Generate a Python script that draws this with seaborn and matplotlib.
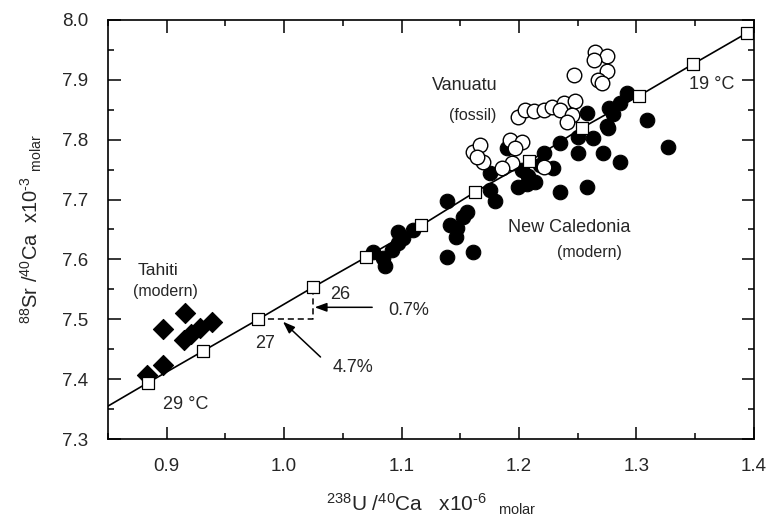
import matplotlib
matplotlib.use("Agg")
import matplotlib.pyplot as plt
from matplotlib.ticker import MultipleLocator
import pandas as pd
import seaborn as sns

# Calibration line: squares every 1 degC, 29 degC (left) to 18 degC (right)
calib_temp = [29, 28, 27, 26, 25, 24, 23, 22, 21, 20, 19, 18]
calib_u = [0.884, 0.931, 0.978, 1.025, 1.070, 1.117, 1.163, 1.209, 1.254, 1.302, 1.348, 1.394]
calib_sr = [7.394, 7.447, 7.500, 7.554, 7.604, 7.657, 7.713, 7.764, 7.820, 7.873, 7.926, 7.978]
line_start_u = 0.85
line_start_sr = 7.355

# Tahiti (modern)
tahiti_u = [0.883, 0.897, 0.897, 0.916, 0.915, 0.921, 0.928, 0.939]
tahiti_sr = [7.407, 7.424, 7.484, 7.510, 7.466, 7.476, 7.486, 7.496]

# New Caledonia (modern)
newcal_u = [1.076, 1.084, 1.086, 1.092, 1.097, 1.097, 1.101, 1.110, 1.139, 1.141,
            1.152, 1.156, 1.146, 1.147, 1.139, 1.161, 1.175, 1.175, 1.180, 1.190,
            1.199, 1.207, 1.214, 1.203, 1.221, 1.229, 1.235, 1.258, 1.235, 1.250,
            1.250, 1.263, 1.272, 1.286, 1.276, 1.309, 1.327, 1.292, 1.286, 1.277,
            1.280, 1.275, 1.208, 1.218, 1.258]
newcal_sr = [7.612, 7.602, 7.589, 7.616, 7.627, 7.646, 7.636, 7.649, 7.698, 7.658,
             7.671, 7.679, 7.637, 7.652, 7.604, 7.612, 7.744, 7.716, 7.698, 7.786,
             7.721, 7.726, 7.729, 7.749, 7.778, 7.753, 7.713, 7.721, 7.794, 7.778,
             7.805, 7.803, 7.778, 7.763, 7.820, 7.833, 7.788, 7.878, 7.861, 7.853,
             7.843, 7.823, 7.739, 7.758, 7.845]

# Vanuatu (fossil)
vanuatu_u = [1.265, 1.275, 1.264, 1.275, 1.247, 1.267, 1.271, 1.199, 1.205, 1.213,
             1.221, 1.228, 1.238, 1.248, 1.235, 1.245, 1.241, 1.161, 1.167, 1.169,
             1.164, 1.192, 1.203, 1.197, 1.194, 1.186, 1.221]
vanuatu_sr = [7.947, 7.940, 7.933, 7.915, 7.908, 7.900, 7.895, 7.838, 7.850, 7.848,
              7.850, 7.855, 7.861, 7.865, 7.850, 7.841, 7.830, 7.779, 7.791, 7.763,
              7.771, 7.800, 7.796, 7.786, 7.761, 7.753, 7.754]

x_ticks = [0.9, 1.0, 1.1, 1.2, 1.3, 1.4]
y_ticks = [7.3, 7.4, 7.5, 7.6, 7.7, 7.8, 7.9, 8.0]

sns.set_theme(style="ticks")
plt.rcParams["font.family"] = ["Liberation Sans", "DejaVu Sans"]
plt.rcParams["mathtext.fontset"] = "custom"
plt.rcParams["mathtext.rm"] = "Liberation Sans"
plt.rcParams["mathtext.it"] = "Liberation Sans"
plt.rcParams["mathtext.default"] = "rm"

fig = plt.figure(figsize=(7.66, 5.23), dpi=100)
ax = fig.add_axes([0.141, 0.1606, 0.843, 0.8012])

calib = pd.DataFrame({"u": calib_u, "sr": calib_sr, "t": calib_temp})
line = pd.DataFrame({"u": [line_start_u] + calib_u, "sr": [line_start_sr] + calib_sr})

sns.scatterplot(x=newcal_u, y=newcal_sr, ax=ax, marker="o", s=110,
                color="black", edgecolor="black", linewidth=0.8, zorder=2, legend=False)
sns.scatterplot(x=vanuatu_u, y=vanuatu_sr, ax=ax, marker="o", s=110,
                facecolor="white", edgecolor="black", linewidth=1.0, zorder=3, legend=False)
sns.scatterplot(x=tahiti_u, y=tahiti_sr, ax=ax, marker="D", s=105,
                color="black", edgecolor="black", linewidth=0.8, zorder=2, legend=False)
sns.lineplot(data=line, x="u", y="sr", ax=ax, color="black", linewidth=1.2,
             sort=False, zorder=4, legend=False)
sns.scatterplot(data=calib, x="u", y="sr", ax=ax, marker="s", s=65,
                facecolor="white", edgecolor="black", linewidth=0.9, zorder=5, legend=False)

# Dashed construction between 27 and 26 degC
u27, sr27 = calib_u[2], calib_sr[2]
u26, sr26 = calib_u[3], calib_sr[3]
ax.plot([u27, u26, u26], [sr27, sr27, sr26], color="black", lw=1.1,
        ls=(0, (4, 2.5)), zorder=3)

arrow = dict(arrowstyle="-|>,head_length=0.6,head_width=0.22", color="black", lw=1.1,
             mutation_scale=12, shrinkA=0, shrinkB=0)
ax.annotate("", xy=(u26 + 0.001, 7.520), xytext=(1.075, 7.520), arrowprops=arrow)
ax.annotate("", xy=(0.999, sr27 - 0.004), xytext=(1.031, 7.437), arrowprops=arrow)

fs = 13
ax.text(1.106, 7.514, "0.7%", fontsize=fs, ha="center", va="center")
ax.text(1.059, 7.420, "4.7%", fontsize=fs, ha="center", va="center")
ax.text(1.048, 7.542, "26", fontsize=fs, ha="center", va="center")
ax.text(0.984, 7.460, "27", fontsize=fs, ha="center", va="center")
ax.text(0.916, 7.357, "29 \u00b0C", fontsize=fs, ha="center", va="center")
ax.text(1.364, 7.892, "19 \u00b0C", fontsize=fs, ha="center", va="center")
ax.text(0.893, 7.582, "Tahiti", fontsize=12.5, ha="center", va="center")
ax.text(0.899, 7.547, "(modern)", fontsize=11.5, ha="center", va="center")
ax.text(1.154, 7.890, "Vanuatu", fontsize=13, ha="center", va="center")
ax.text(1.161, 7.841, "(fossil)", fontsize=11.5, ha="center", va="center")
ax.text(1.243, 7.654, "New Caledonia", fontsize=13, ha="center", va="center")
ax.text(1.260, 7.611, "(modern)", fontsize=11.5, ha="center", va="center")

ax.set_xlim(0.85, 1.4)
ax.set_ylim(7.3, 8.0)
ax.set_xticks(x_ticks)
ax.set_xticklabels([f"{v:.1f}" for v in x_ticks])
ax.set_yticks(y_ticks)
ax.set_yticklabels([f"{v:.1f}" for v in y_ticks])
ax.xaxis.set_minor_locator(MultipleLocator(0.05))
ax.yaxis.set_minor_locator(MultipleLocator(0.05))
ax.tick_params(which="both", direction="in", top=True, right=True,
               color="black", width=1.1)
ax.tick_params(which="major", length=9, pad=14, labelsize=13.5)
ax.tick_params(which="minor", length=4.5)
for sp in ax.spines.values():
    sp.set_visible(True)
    sp.set_color("black")
    sp.set_linewidth(1.2)

ax.set_xlabel(r"$^{238}$U /$^{40}$Ca   x10$^{\text{-}6}$  $_{\mathrm{molar}}$",
              fontsize=15, labelpad=12)
ax.set_ylabel(r"$^{88}$Sr /$^{40}$Ca  x10$^{\text{-}3}$ $_{\mathrm{molar}}$",
              fontsize=14.5, labelpad=13)

fig.savefig("out.png", dpi=100, facecolor="white")
